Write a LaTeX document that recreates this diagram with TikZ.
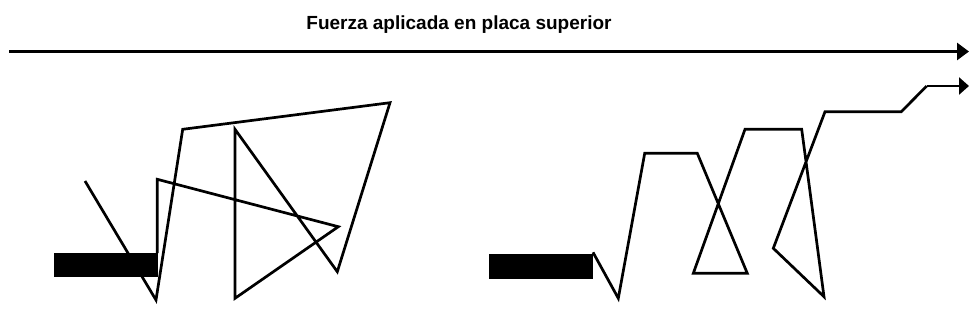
\documentclass[tikz,border=0pt]{standalone}
\usepackage{fontspec}
\setmainfont{Liberation Sans}
\usetikzlibrary{arrows.meta}
\begin{document}
\begin{tikzpicture}[x=1pt,y=-1pt,
  chain/.style={line width=2.7pt, line join=miter, miter limit=4},
  plate/.style={fill=black, draw=none},
  forcearrow/.style={line width=2.8pt, -{Triangle[length=12pt,width=17pt]}}]
\useasboundingbox[fill=white] (0,0) rectangle (969,333);
% title
\node[anchor=base, inner sep=0pt, font=\fontsize{19}{22}\selectfont\bfseries] (title) at (459,29) {Fuerza aplicada en placa superior};
% top force arrow
\coordinate (fa) at (9,51.5);
\coordinate (fb) at (969,51.5);
\draw[forcearrow] (fa) -- (fb);
% left plate and chain
\node[plate, minimum width=104pt, minimum height=24.5pt, inner sep=0pt, anchor=north west] (lp) at (53.5,252.3) {};
\coordinate (l1) at (157.3,253);
\coordinate (l2) at (157.3,179.3);
\coordinate (l3) at (338.3,226.7);
\coordinate (l4) at (235,298.3);
\coordinate (l5) at (235,129.3);
\coordinate (l6) at (337.3,271.7);
\coordinate (l7) at (390,102.7);
\coordinate (l8) at (182.7,129.3);
\coordinate (l9) at (156,300);
\coordinate (l10) at (85,181);
\draw[chain] (l1) -- (l2) -- (l3) -- (l4) -- (l5) -- (l6) -- (l7) -- (l8) -- (l9) -- (l10);
\node[plate, minimum width=104.7pt, minimum height=25.7pt, inner sep=0pt, anchor=north west] (rp) at (488.3,253.3) {};
% right plate and chain
\coordinate (r1) at (593,252.3);
\coordinate (r2) at (618.3,298.3);
\coordinate (r3) at (644.7,153.3);
\coordinate (r4) at (697.3,153.3);
\coordinate (r5) at (747.3,273.3);
\coordinate (r6) at (693.3,273.3);
\coordinate (r7) at (745,129.3);
\coordinate (r8) at (801.7,129.3);
\coordinate (r9) at (824,296.7);
\coordinate (r10) at (773.3,248.3);
\coordinate (r11) at (825,111.7);
\coordinate (r12) at (901.3,111.7);
\coordinate (r13) at (926.7,86);
\coordinate (r14) at (969,86);
\draw[chain] (r1) -- (r2) -- (r3) -- (r4) -- (r5) -- (r6) -- (r7) -- (r8) -- (r9) -- (r10) -- (r11) -- (r12) -- (r13);
\draw[chain, -{Triangle[length=10pt,width=17pt]}] (r13) -- (r14);
\end{tikzpicture}
\end{document}
